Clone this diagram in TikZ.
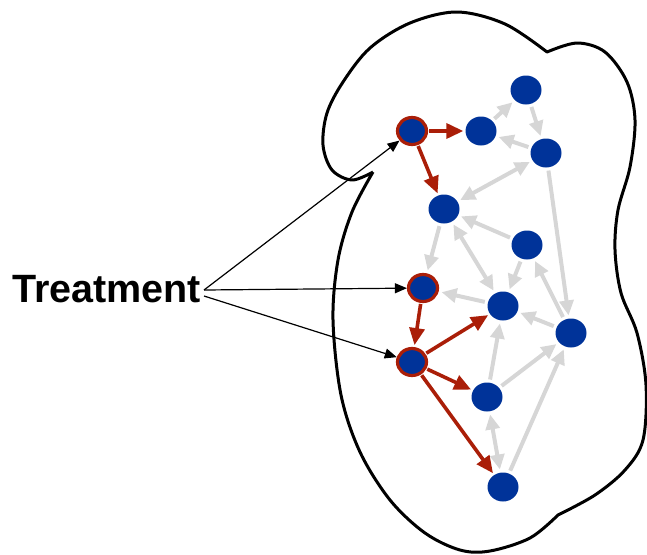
\documentclass[tikz,border=0pt]{standalone}
\usepackage{fontspec}
\setsansfont{Liberation Sans}
\usetikzlibrary{arrows.meta,shapes.geometric}
\definecolor{nodeblue}{HTML}{003399}
\definecolor{edgered}{HTML}{AA1E08}
\definecolor{edgegray}{HTML}{D6D6D6}
\tikzset{
  bnode/.style={ellipse,fill=nodeblue,draw=none,minimum width=31pt,minimum height=29pt,inner sep=0pt},
  rnode/.style={ellipse,fill=nodeblue,draw=edgered,line width=3.2pt,minimum width=29pt,minimum height=27pt,inner sep=0pt},
  redge/.style={draw=edgered,line width=3.6pt,-{Triangle[length=17pt,width=15pt]},shorten >=2pt,shorten <=1pt},
  gedge/.style={draw=edgegray,line width=4pt,-{Triangle[length=15pt,width=14pt]},shorten >=3pt,shorten <=3pt},
  gdedge/.style={draw=edgegray,line width=4pt,{Triangle[length=15pt,width=14pt]}-{Triangle[length=15pt,width=14pt]},shorten >=3pt,shorten <=3pt},
  tedge/.style={draw=black,line width=1.2pt,-{Triangle[length=12pt,width=10pt]}},
  blob/.style={draw=black,line width=3pt,line join=round}
}
\begin{document}
\begin{tikzpicture}[x=1pt,y=-1pt]
\useasboundingbox (0,0) rectangle (647,554);
% outline
\draw[blob]
  plot[smooth,tension=0.55] coordinates {(373,172) (352,180) (332,170) (323,145) (327,113) (343,82) (370,48) (410,23) (457,12) (505,24) (547,52)}
  -- plot[smooth,tension=0.55] coordinates {(547,52) (577,43) (605,52) (627,82) (635,120) (630,167) (618,210) (615,250) (621,293) (637,333) (646,385) (643,440) (625,470) (595,495) (558,515)}
  -- plot[smooth,tension=0.55] coordinates {(558,515) (530,538) (490,551) (460,550) (425,533) (390,500) (360,452) (341,395) (333,320) (338,260) (352,212) (373,172)};
% nodes
\node[rnode] (A) at (412,131) {};
\node[bnode] (B) at (481,131) {};
\node[bnode] (C) at (526,90) {};
\node[bnode] (D) at (546,153) {};
\node[bnode] (E) at (444,209) {};
\node[bnode] (F) at (527,245) {};
\node[rnode] (G) at (423,288) {};
\node[bnode] (H) at (503,306) {};
\node[bnode] (I) at (571,333) {};
\node[rnode] (J) at (412,362) {};
\node[bnode] (K) at (487,397) {};
\node[bnode] (L) at (503,487) {};
% gray edges
\draw[gedge] (B) -- (C);
\draw[gedge] (C) -- (D);
\draw[gedge] (D) -- (B);
\draw[gdedge] (D) -- (E);
\draw[gedge] (F) -- (E);
\draw[gedge] (E) -- (G);
\draw[gdedge] (E) -- (H);
\draw[gedge] (F) -- (H);
\draw[gedge] (D) -- (I);
\draw[gedge] (H) -- (G);
\draw[gedge] (I) -- (H);
\draw[gedge] (I) -- (F);
\draw[gedge] (K) -- (H);
\draw[gedge] (K) -- (I);
\draw[gdedge] (K) -- (L);
\draw[gedge] (L) -- (I);
% red edges
\draw[redge] (A) -- (B);
\draw[redge] (A) -- (E);
\draw[redge] (G) -- (J);
\draw[redge] (J) -- (H);
\draw[redge] (J) -- (K);
\draw[redge] (J) -- (L);
% treatment
\node[font=\sffamily\bfseries,anchor=base west,inner sep=0pt] (T) at (12,302) {\fontsize{39.5}{42}\selectfont Treatment};
\coordinate (s1) at (204,290);
\coordinate (s2) at (204,296);
\draw[tedge] (s1) -- (A);
\draw[tedge] (s1) -- (G);
\draw[tedge] (s2) -- (J);
\end{tikzpicture}
\end{document}
